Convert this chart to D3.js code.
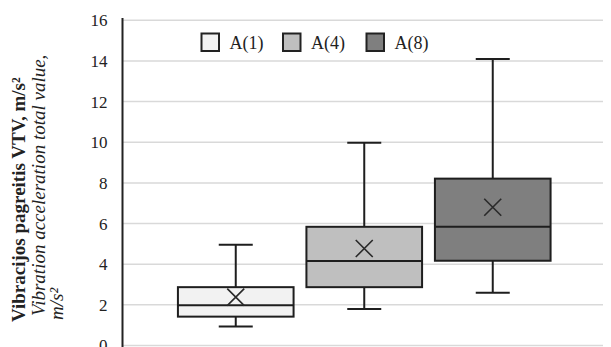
<!DOCTYPE html>
<html>
<head>
<meta charset="utf-8">
<script src="https://cdn.jsdelivr.net/npm/d3@7"></script>
<style>
  html, body { margin: 0; padding: 0; background: #fff; }
  svg { display: block; }
</style>
</head>
<body>
<svg id="chart" width="611" height="347"></svg>
<script>
// ---- data ----
const series  = ["A(1)", "A(4)", "A(8)"];
const mins    = [0.93, 1.80, 2.59];
const q1s     = [1.42, 2.87, 4.17];
const medians = [1.98, 4.16, 5.84];
const q3s     = [2.87, 5.84, 8.21];
const maxs    = [4.96, 9.97, 14.1];
const means   = [2.38, 4.77, 6.80];
const yTicks  = [0, 2, 4, 6, 8, 10, 12, 14, 16];
const titleLines = ["Vibracijos pagreitis VTV, m/s²", "Vibration acceleration total value,", "m/s²"];

// ---- styles ----
const fills = ["#f2f2f2", "#bfbfbf", "#7f7f7f"];
const strokeCol = "#1e1e1e";
const font = "'Liberation Serif', 'Times New Roman', serif";

const svg = d3.select("#chart");

const y = d3.scaleLinear().domain([0, 16]).range([345.5, 20.3]);
const x = d3.scaleBand().domain(series).range([171.5, 557]).paddingInner(0.1).paddingOuter(0.05);

const plotLeft = 122.5, plotRight = 603;

// gridlines
svg.append("g").selectAll("line").data(yTicks).join("line")
  .attr("x1", plotLeft).attr("x2", plotRight)
  .attr("y1", d => y(d)).attr("y2", d => y(d))
  .attr("stroke", "#d9d9d9").attr("stroke-width", 1.5);

// y axis
const yAxis = d3.axisLeft(y).tickValues(yTicks).tickSize(0).tickPadding(15).tickFormat(d3.format("d"));
const gy = svg.append("g").attr("transform", `translate(${plotLeft},0)`).call(yAxis);
gy.select(".domain").remove();
gy.selectAll("text").attr("font-family", font).attr("font-size", 17).attr("fill", "#222");
svg.append("line").attr("x1", plotLeft).attr("x2", plotLeft).attr("y1", 18).attr("y2", 347)
  .attr("stroke", "#222").attr("stroke-width", 2);

// boxes
const data = series.map((s, i) => ({ s, i, min: mins[i], q1: q1s[i], med: medians[i], q3: q3s[i], max: maxs[i], mean: means[i] }));
const g = svg.append("g").selectAll("g").data(data).join("g");
const cx = d => x(d.s) + x.bandwidth() / 2;
const capW = 17;

// whiskers
g.append("line").attr("x1", cx).attr("x2", cx).attr("y1", d => y(d.max)).attr("y2", d => y(d.q3))
  .attr("stroke", strokeCol).attr("stroke-width", 2);
g.append("line").attr("x1", cx).attr("x2", cx).attr("y1", d => y(d.q1)).attr("y2", d => y(d.min))
  .attr("stroke", strokeCol).attr("stroke-width", 2);
g.append("line").attr("x1", d => cx(d) - capW).attr("x2", d => cx(d) + capW).attr("y1", d => y(d.max)).attr("y2", d => y(d.max))
  .attr("stroke", strokeCol).attr("stroke-width", 2);
g.append("line").attr("x1", d => cx(d) - capW).attr("x2", d => cx(d) + capW).attr("y1", d => y(d.min)).attr("y2", d => y(d.min))
  .attr("stroke", strokeCol).attr("stroke-width", 2);
// box
g.append("rect").attr("x", d => x(d.s)).attr("width", x.bandwidth())
  .attr("y", d => y(d.q3)).attr("height", d => y(d.q1) - y(d.q3))
  .attr("fill", d => fills[d.i]).attr("stroke", strokeCol).attr("stroke-width", 2);
// median
g.append("line").attr("x1", d => x(d.s)).attr("x2", d => x(d.s) + x.bandwidth())
  .attr("y1", d => y(d.med)).attr("y2", d => y(d.med))
  .attr("stroke", strokeCol).attr("stroke-width", 2);
// mean X
const mk = 8.5;
g.append("path").attr("d", d => {
  const px = cx(d), py = y(d.mean);
  return `M${px - mk},${py - mk}L${px + mk},${py + mk}M${px - mk},${py + mk}L${px + mk},${py - mk}`;
}).attr("stroke", "#2a2a2a").attr("stroke-width", 1.6).attr("fill", "none");

// legend
const legX = [201.5, 283, 366.5];
const lg = svg.append("g").selectAll("g").data(series).join("g")
  .attr("transform", (d, i) => `translate(${legX[i]},33.5)`);
lg.append("rect").attr("width", 17.5).attr("height", 17.5)
  .attr("fill", (d, i) => fills[i]).attr("stroke", "#222").attr("stroke-width", 2);
lg.append("text").attr("x", 28).attr("y", 15).text(d => d)
  .attr("font-family", font).attr("font-size", 18).attr("fill", "#222");

// y title
const tg = svg.append("g").attr("transform", "rotate(-90)");
const tl = [
  { t: titleLines[0], x: 25, start: 322, w: "bold", st: "normal" },
  { t: titleLines[1], x: 45, start: 316, w: "normal", st: "italic" },
  { t: titleLines[2], x: 63, start: 320, w: "normal", st: "italic" }
];
tg.selectAll("text").data(tl).join("text")
  .attr("x", d => -d.start).attr("y", d => d.x)
  .attr("font-family", font).attr("font-size", 19)
  .attr("font-weight", d => d.w).attr("font-style", d => d.st)
  .attr("fill", "#222").text(d => d.t);
</script>
</body>
</html>
